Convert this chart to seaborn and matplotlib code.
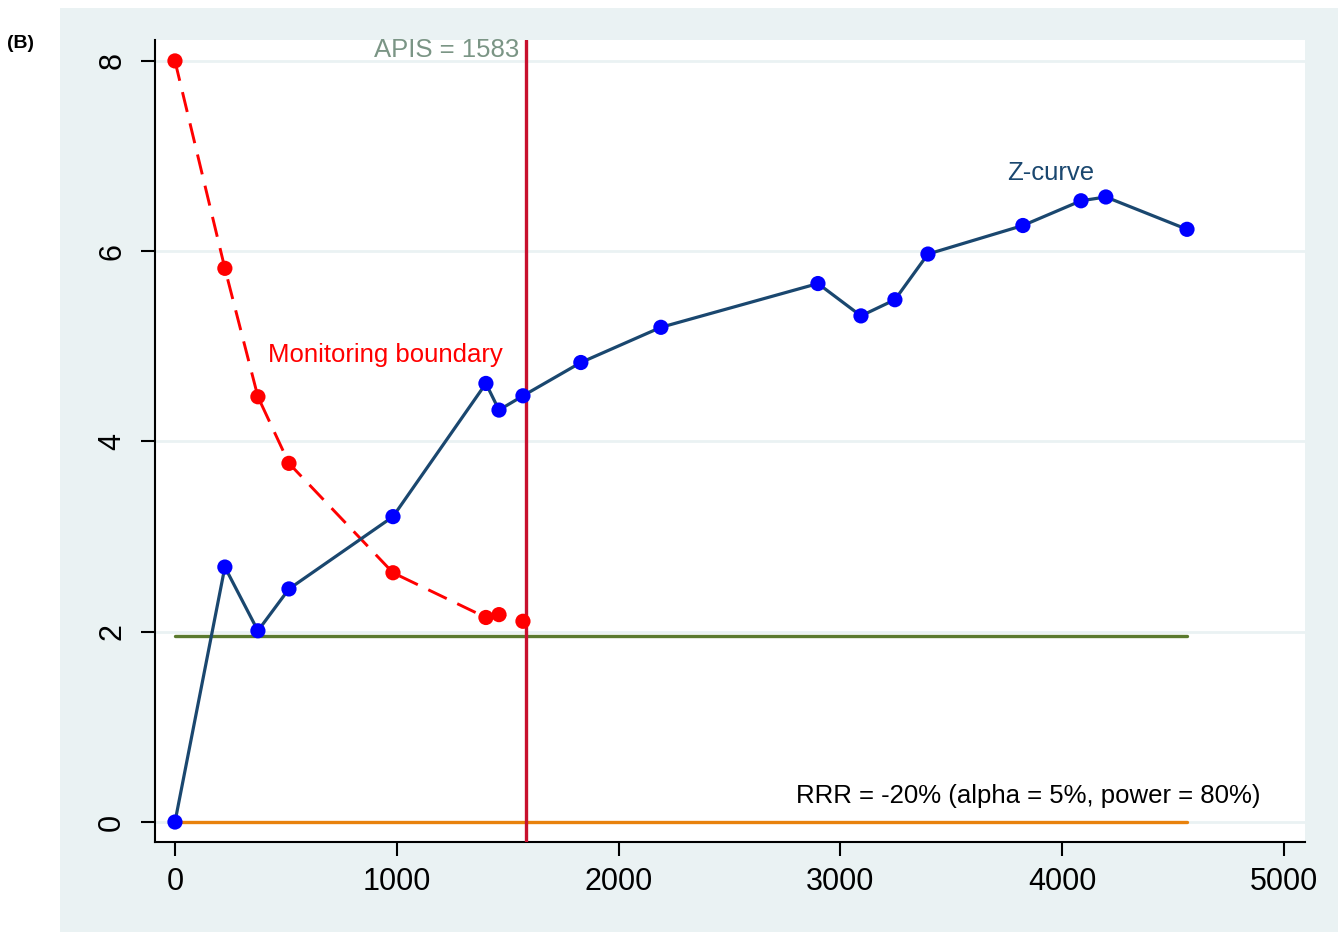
import matplotlib
matplotlib.use("Agg")
import matplotlib.pyplot as plt
import seaborn as sns
import pandas as pd
from matplotlib.patches import Rectangle

# Cumulative number of patients and cumulative Z-scores
z_patients = [0, 225, 374, 514, 983, 1402, 1461, 1569, 1830, 2191,
              2899, 3093, 3246, 3395, 3823, 4085, 4197, 4563]
z_values = [0.00, 2.68, 2.01, 2.45, 3.21, 4.61, 4.33, 4.48, 4.83, 5.20,
            5.66, 5.32, 5.49, 5.97, 6.27, 6.53, 6.57, 6.23]

# Trial sequential monitoring boundary
b_patients = [0, 225, 374, 514, 983, 1402, 1461, 1569]
b_values = [8.00, 5.82, 4.47, 3.77, 2.62, 2.15, 2.18, 2.11]

apis = 1583
z_conventional = 1.96
x_end = 4563

x_ticks = [0, 1000, 2000, 3000, 4000, 5000]
y_ticks = [0, 2, 4, 6, 8]

sns.set_theme(style="white")
plt.rcParams["font.family"] = ["Liberation Sans", "DejaVu Sans"]

bg = "#eaf2f3"
navy = "#1a476f"

fig = plt.figure(figsize=(13.38, 9.32), dpi=100)
fig.patch.set_facecolor("white")
fig.add_artist(Rectangle((60 / 1338, 0), 1 - 60 / 1338, 1 - 8 / 932,
                         transform=fig.transFigure, facecolor=bg,
                         edgecolor="none", zorder=0))
fig.text(7 / 1338, 1 - 44 / 932, "(B)", fontsize=14, fontweight="bold",
         va="center", ha="left", color="black")

ax = fig.add_axes([155 / 1338, 1 - 842 / 932, 1150 / 1338, 802 / 932])
ax.set_facecolor("white")

for yv in y_ticks:
    ax.axhline(yv, color=bg, lw=2, zorder=0)

df_ref = pd.DataFrame({"x": [0, x_end, 0, x_end],
                       "y": [z_conventional, z_conventional, 0, 0],
                       "line": ["z196", "z196", "zero", "zero"]})
sns.lineplot(data=df_ref[df_ref.line == "z196"], x="x", y="y", ax=ax,
             color="#5b7a2e", lw=2.4, zorder=2)
sns.lineplot(data=df_ref[df_ref.line == "zero"], x="x", y="y", ax=ax,
             color="#e8820c", lw=2.4, zorder=2)

ax.axvline(apis, color="#c8102e", lw=2.4, zorder=3)

df_b = pd.DataFrame({"x": b_patients, "y": b_values})
sns.lineplot(data=df_b, x="x", y="y", ax=ax, sort=False, estimator=None,
             color="#ff0000", lw=2.1, dashes=False, zorder=4)
ax.lines[-1].set_linestyle((0, (7, 4)))
sns.scatterplot(data=df_b, x="x", y="y", ax=ax, color="#ff0000", s=120,
                edgecolor="none", zorder=5)

df_z = pd.DataFrame({"x": z_patients, "y": z_values})
sns.lineplot(data=df_z, x="x", y="y", ax=ax, sort=False, estimator=None,
             color=navy, lw=2.3, zorder=6)
sns.scatterplot(data=df_z, x="x", y="y", ax=ax, color="#0000ff", s=120,
                edgecolor="none", zorder=7)

ax.annotate(f"APIS = {apis}", xy=(apis, 8.12), xytext=(-5, 0),
            textcoords="offset points", ha="right", va="center",
            fontsize=18.5, color="#7b9585")
ax.text(419, 4.91, "Monitoring boundary", fontsize=18.5, color="#ff0000",
        ha="left", va="center")
ax.text(3751, 6.82, "Z-curve", fontsize=18.5, color=navy, ha="left",
        va="center")
ax.text(2800, 0.27, "RRR = -20% (alpha = 5%, power = 80%)", fontsize=18.5,
        color="black", ha="left", va="center")

ax.set_xlim(-90, 5095)
ax.set_ylim(-0.21, 8.22)
ax.set_xticks(x_ticks)
ax.set_yticks(y_ticks)
ax.set_xticklabels([str(t) for t in x_ticks], fontsize=22)
ax.set_yticklabels([str(t) for t in y_ticks], fontsize=22, rotation=90,
                   va="center")
ax.set_xlabel("")
ax.set_ylabel("")
ax.tick_params(axis="both", which="major", direction="out", length=10,
               width=1.5, color="black", labelcolor="black",
               left=True, bottom=True)
ax.tick_params(axis="x", pad=8)
ax.tick_params(axis="y", pad=10)

for side in ["top", "right"]:
    ax.spines[side].set_visible(False)
for side in ["left", "bottom"]:
    ax.spines[side].set_color("black")
    ax.spines[side].set_linewidth(1.5)

fig.savefig("out.png", dpi=100, facecolor=fig.get_facecolor())
